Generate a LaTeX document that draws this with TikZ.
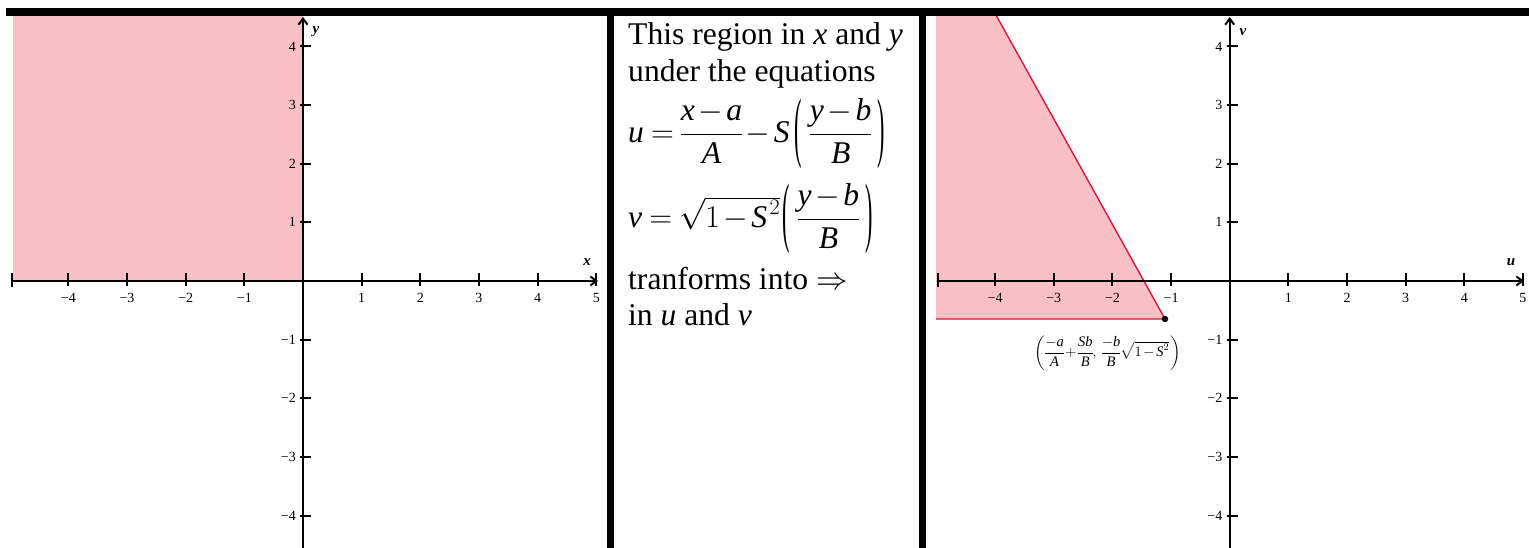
\RequirePackage{fix-cm}
\documentclass[tikz,border=0pt]{standalone}
\usepackage{amsmath}
\usepackage{fontspec}
\setmainfont{Liberation Serif}
\usetikzlibrary{arrows.meta}
\definecolor{shadefill}{RGB}{248,192,197}
\definecolor{boundred}{RGB}{222,20,60}
\newcommand\vi[1]{\textit{#1}}
\newcommand\tlab[1]{\ifnum#1<0 −\the\numexpr-#1\relax\else#1\fi}
\newcommand\tightmath{\medmuskip=2mu\thickmuskip=4mu\thinmuskip=2mu\nulldelimiterspace=0pt}
\newcommand\tparen[1]{\mathopen{\vcenter{\hbox{\scalebox{0.7}[2.45]{#1}}}}}
\newcommand\tparenr[1]{\mathclose{\vcenter{\hbox{\scalebox{0.7}[2.45]{#1}}}}}
\begin{document}
\begin{tikzpicture}[x=1pt,y=-1pt,
  sepbar/.style={fill=black},
  axisline/.style={line width=2.2pt,-{Straight Barb[length=6pt,width=9pt,line width=2pt]}},
  tickmark/.style={line width=2pt},
  ticklabel/.style={font=\fontsize{14}{14}\selectfont, inner sep=0pt},
  axislabel/.style={font=\fontsize{15}{15}\selectfont\bfseries\itshape, inner sep=0pt},
  bodytext/.style={font=\fontsize{31.6}{36}\selectfont, inner sep=0pt, anchor=base west},
  eqtext/.style={font=\fontsize{31.6}{36}\selectfont\tightmath, inner sep=0pt, anchor=west},
  boundary/.style={draw=boundred, line width=1.4pt},
]
\useasboundingbox (0,0) rectangle (1529,548);
\fill[white] (0,0) rectangle (1529,548);

% ---------- left graph ----------
\begin{scope}
  \clip (11,16) rectangle (599,548);
  \fill[shadefill] (13,16) rectangle (303,281);
  \coordinate (xs) at (12,281);
  \coordinate (xe) at (598,281);
  \coordinate (ys) at (303,548);
  \coordinate (ye) at (303,17);
  \draw[tickmark] (12,273) -- (12,287);
  \foreach \i in {-4,-3,-2,-1,1,2,3,4,5} {
    \draw[tickmark] (303+\i*58.65,273) -- (303+\i*58.65,286);
    \node[ticklabel] (lx\i) at (303+\i*58.65,297.5) {\tlab{\i}};
  }
  \foreach \j in {-4,-3,-2,-1,1,2,3,4} {
    \draw[tickmark] (300,281-\j*58.65) -- (311,281-\j*58.65);
    \node[ticklabel, anchor=east] (ly\j) at (296,281-\j*58.65) {\tlab{\j}};
  }
  \draw[axisline] (xs) -- (xe);
  \draw[axisline] (ys) -- (ye);
  \node[axislabel] (xl) at (587,262) {x};
  \node[axislabel] (yl) at (316,32) {y};
\end{scope}

% ---------- right graph ----------
\begin{scope}
  \clip (935,16) rectangle (1526,548);
  \coordinate (top) at (996.5,16);
  \coordinate (pt) at (1165,319);
  \coordinate (bl) at (936,319);
  \fill[shadefill] (936,16) -- (top) -- (pt) -- (bl) -- cycle;
  \draw[boundary] (top) -- (pt) -- (bl);
  \coordinate (us) at (938,281);
  \coordinate (ue) at (1524,281);
  \coordinate (vs) at (1229.7,548);
  \coordinate (ve) at (1229.7,17);
  \draw[tickmark] (938,273) -- (938,287);
  \foreach \i in {-4,-3,-2,-1,1,2,3,4,5} {
    \draw[tickmark] (1229.7+\i*58.65,273) -- (1229.7+\i*58.65,286);
    \node[ticklabel] (lu\i) at (1229.7+\i*58.65,297.5) {\tlab{\i}};
  }
  \foreach \j in {-4,-3,-2,-1,1,2,3,4} {
    \draw[tickmark] (1226.7,281-\j*58.65) -- (1237.7,281-\j*58.65);
    \node[ticklabel, anchor=east] (lv\j) at (1222.5,281-\j*58.65) {\tlab{\j}};
  }
  \draw[axisline] (us) -- (ue);
  \draw[axisline] (vs) -- (ve);
  \fill (pt) circle (3.2);
  \node[axislabel] (ul) at (1511,262) {u};
  \node[axislabel] (vl) at (1243,32) {v};
  \node[font=\fontsize{14.5}{14.5}\selectfont\tightmath, inner sep=0pt] (ptlabel) at (1108,353)
    {$\left(\dfrac{-\vi{a}}{\vi{A}}+\dfrac{\vi{S}\vi{b}}{\vi{B}},\ \dfrac{-\vi{b}}{\vi{B}}\sqrt{1-\vi{S}^2}\,\right)$};
\end{scope}

% ---------- middle text ----------
\node[bodytext] (t1) at (628,45) {This region in \vi{x} and \vi{y}};
\node[bodytext] (t2) at (628,81.7) {under the equations};
\node[eqtext] (e1) at (628,134) {$\vi{u} = \dfrac{\vi{x}-\vi{a}}{\vi{A}}-\vi{S}\hspace{5pt}\tparen{(}\hspace{8pt}\dfrac{\vi{y}-\vi{b}}{\vi{B}}\hspace{6pt}\tparenr{)}$};
\node[eqtext] (e2) at (628,219) {$\vi{v} = \sqrt{1-\vi{S}^{\,2}}\hspace{2pt}\tparen{(}\hspace{8pt}\dfrac{\vi{y}-\vi{b}}{\vi{B}}\hspace{6pt}\tparenr{)}$};
\node[bodytext] (t3) at (628,290) {tranforms into $\Rightarrow$};
\node[bodytext] (t4) at (628,325) {in \vi{u} and \vi{v}};

% ---------- frame bars ----------
\fill[sepbar] (6,8) rectangle (1529,16);
\fill[sepbar] (607,8) rectangle (614,548);
\fill[sepbar] (919,8) rectangle (926,548);
\end{tikzpicture}
\end{document}
